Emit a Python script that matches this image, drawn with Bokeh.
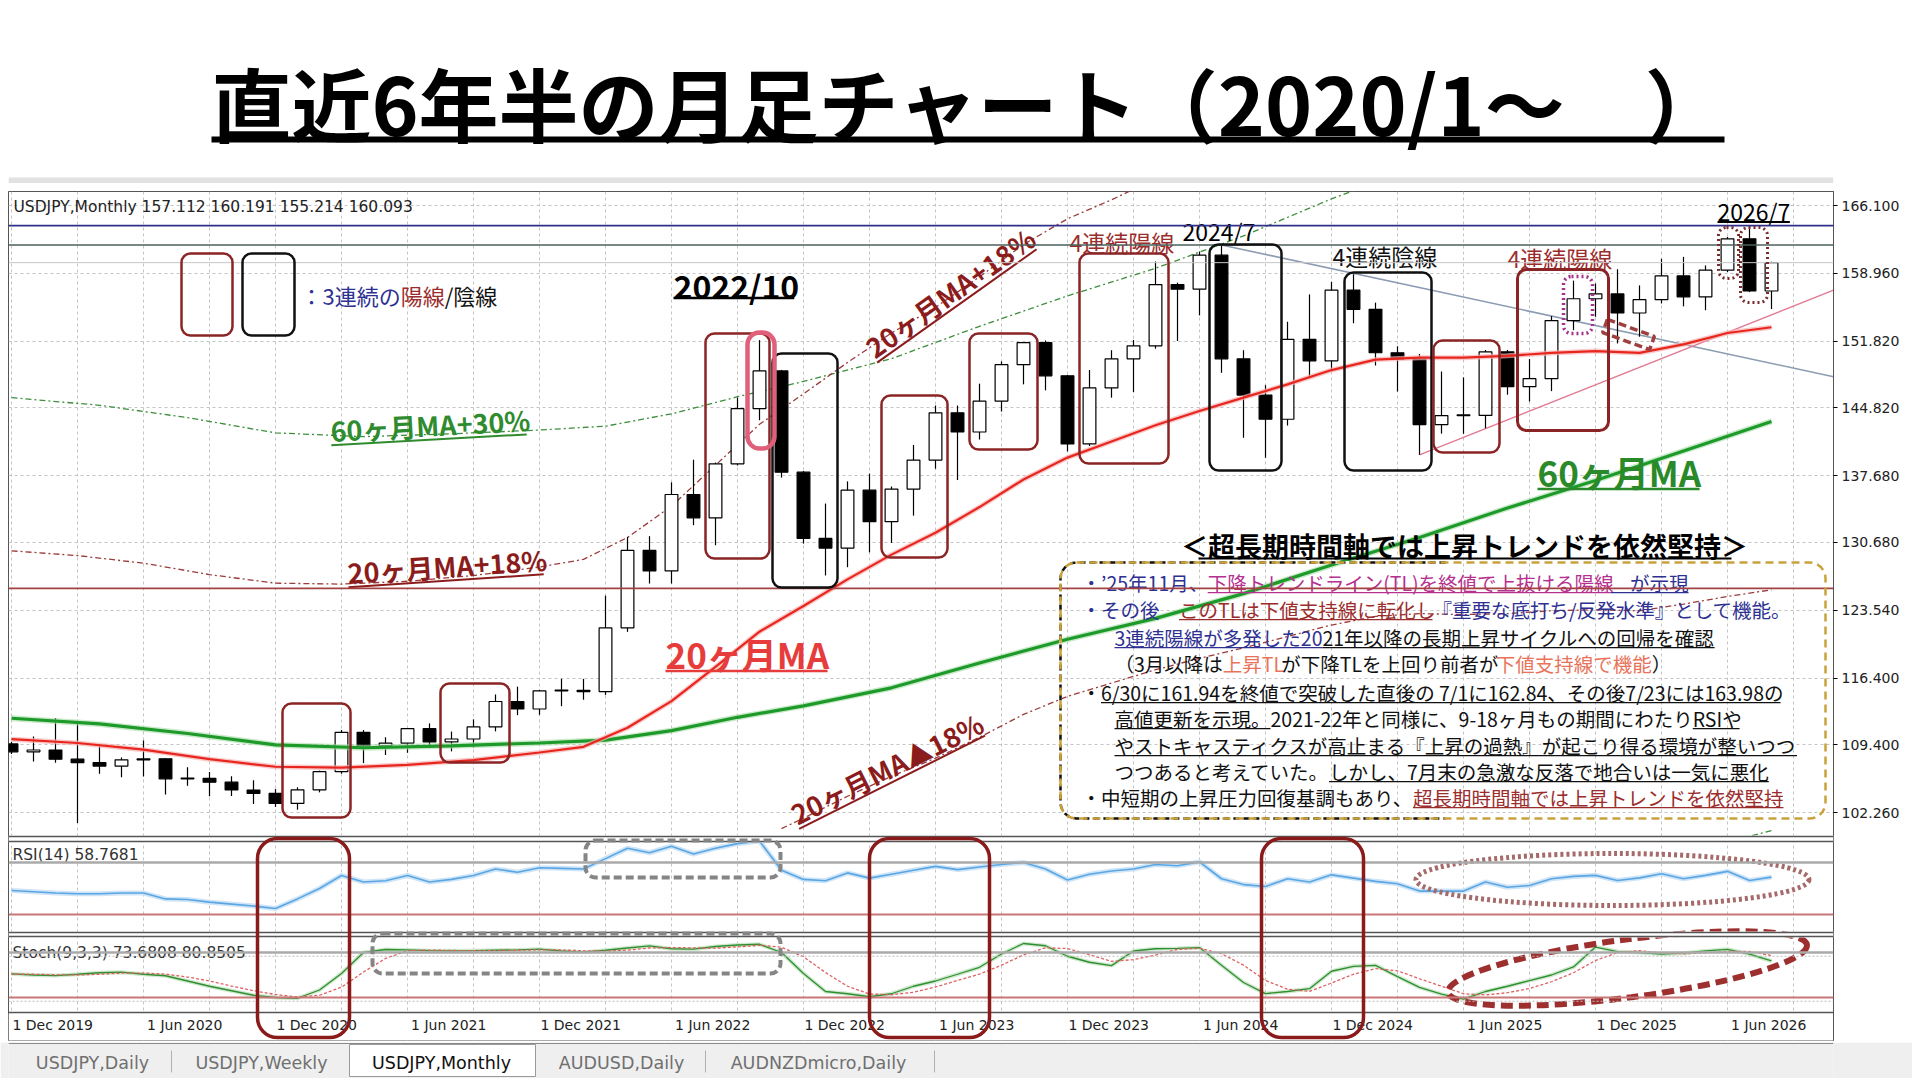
import math
import pandas as pd
from bokeh.plotting import figure
from bokeh.models import (Range1d, FixedTicker, Label, BoxAnnotation, Span,
                          ColumnDataSource, PrintfTickFormatter)
from bokeh.layouts import column
from bokeh.embed import file_html
from bokeh.resources import INLINE
from bokeh.core.properties import value

# ---------------------------------------------------------------- data
months = [d.strftime("%Y-%m") for d in pd.period_range("2019-12", "2026-08", freq="M")]

opens = [109.50, 108.67, 108.86, 107.90, 107.54, 107.17, 107.83, 107.93, 105.83, 105.89,
         105.48, 104.66, 104.30, 103.25, 104.68, 106.58, 110.72, 109.31, 109.58, 111.10,
         109.71, 110.02, 111.29, 113.96, 113.17, 115.08, 115.12, 115.00, 121.70, 129.84,
         127.69, 135.72, 133.27, 138.95, 144.74, 148.71, 138.07, 131.10, 130.09, 136.17,
         132.86, 136.29, 139.34, 144.31, 142.29, 145.54, 149.37, 151.68, 148.20, 141.04,
         146.92, 149.98, 151.35, 157.79, 157.30, 160.88, 149.98, 146.17, 143.63, 152.03,
         149.77, 157.20, 155.19, 150.62, 149.96, 143.07, 144.02, 144.03, 150.72, 147.05,
         147.90, 154.00, 156.30, 156.80, 154.80, 156.20, 158.70, 156.50, 159.30, 162.60,
         157.112]
highs = [109.72, 110.29, 112.23, 111.71, 109.38, 108.08, 109.85, 107.99, 107.05, 106.55,
         106.11, 105.68, 104.75, 104.94, 106.69, 110.97, 110.96, 110.20, 111.11, 111.66,
         110.80, 112.08, 114.70, 115.52, 115.19, 116.35, 116.34, 125.09, 131.25, 131.34,
         137.00, 139.38, 139.08, 145.90, 151.95, 148.82, 138.18, 134.77, 137.10, 137.91,
         136.56, 140.93, 145.07, 145.07, 147.37, 149.71, 151.72, 151.91, 148.29, 148.81,
         150.89, 151.97, 160.21, 157.99, 161.27, 161.95, 150.89, 147.21, 153.88, 156.75,
         158.08, 158.87, 155.89, 151.30, 150.49, 148.65, 148.03, 150.91, 150.92, 149.96,
         154.47, 158.20, 157.90, 159.40, 157.70, 160.50, 160.70, 159.80, 162.80, 163.98,
         160.191]
lows = [108.43, 107.65, 107.52, 101.19, 106.36, 105.99, 106.07, 104.19, 105.10, 104.00,
        104.03, 103.18, 102.88, 102.59, 104.41, 106.37, 107.48, 108.34, 108.57, 109.06,
        108.72, 109.11, 110.82, 112.53, 112.56, 113.47, 114.15, 114.65, 121.28, 126.36,
        126.36, 132.50, 130.39, 138.77, 143.53, 137.50, 130.56, 127.21, 128.08, 129.64,
        130.63, 133.50, 138.43, 137.24, 141.50, 144.44, 147.30, 146.67, 140.25, 140.81,
        145.90, 146.48, 151.05, 151.86, 154.55, 148.51, 141.68, 139.58, 142.97, 148.01,
        148.65, 153.72, 149.28, 146.54, 139.89, 142.12, 142.11, 142.68, 146.21, 145.49,
        146.59, 153.00, 154.40, 151.60, 152.30, 155.80, 155.50, 155.10, 159.10, 157.00,
        155.214]
closes = [108.67, 108.86, 107.90, 107.54, 107.17, 107.83, 107.93, 105.83, 105.89, 105.48,
          104.66, 104.30, 103.25, 104.68, 106.58, 110.72, 109.31, 109.58, 111.10, 109.71,
          110.02, 111.29, 113.96, 113.17, 115.08, 115.12, 115.00, 121.70, 129.84, 127.69,
          135.72, 133.27, 138.95, 144.74, 148.71, 138.07, 131.10, 130.09, 136.17, 132.86,
          136.29, 139.34, 144.31, 142.29, 145.54, 149.37, 151.68, 148.20, 141.04, 146.92,
          149.98, 151.35, 157.79, 157.30, 160.88, 149.98, 146.17, 143.63, 152.03, 149.77,
          157.20, 155.19, 150.62, 149.96, 143.07, 144.02, 144.03, 150.72, 147.05, 147.90,
          154.00, 156.30, 156.80, 154.80, 156.20, 158.70, 156.50, 159.30, 162.60, 157.112,
          160.093]

rsi14 = [48.5, 47.5, 46.5, 46.0, 46.0, 46.5, 46.5, 42.0, 41.5, 39.5,
         38.0, 36.5, 34.6, 42.0, 50.0, 60.0, 55.0, 56.0, 60.0, 55.0,
         57.0, 60.0, 65.0, 62.5, 66.0, 65.5, 65.0, 73.0, 81.0, 77.5,
         82.5, 76.5, 81.0, 84.5, 86.5, 64.0, 57.0, 56.0, 62.0, 58.0,
         61.0, 64.0, 67.0, 64.5, 66.5, 68.5, 70.0, 65.0, 56.5, 61.0,
         63.5, 65.0, 68.5, 67.5, 70.5, 57.5, 53.0, 51.5, 57.5, 55.0,
         60.5, 58.0, 55.5, 53.6, 48.0, 48.0, 48.0, 55.0, 51.0, 52.3,
         57.5, 59.3, 60.1, 56.2, 58.2, 61.3, 57.5, 60.1, 63.2, 56.2,
         58.7681]
stoch_k = [56.5, 55.0, 54.3, 56.0, 58.0, 58.7, 56.0, 54.0, 47.0, 40.0,
           34.0, 28.0, 25.0, 24.0, 35.0, 57.0, 85.0, 89.0, 88.5, 87.5,
           87.2, 87.5, 88.0, 88.5, 89.4, 87.0, 85.5, 88.0, 91.0, 93.8,
           90.0, 89.4, 93.0, 95.0, 96.0, 85.0, 57.0, 33.0, 30.0, 26.0,
           30.0, 40.0, 47.0, 56.0, 65.3, 83.0, 97.0, 94.0, 80.0, 72.0,
           67.5, 87.0, 90.0, 90.5, 91.6, 68.0, 45.0, 30.2, 33.0, 36.8,
           60.0, 66.6, 67.9, 52.9, 38.5, 29.5, 22.9, 33.0, 40.0, 47.5,
           55.0, 65.7, 92.3, 86.3, 85.0, 82.9, 84.1, 87.1, 89.3, 82.9,
           73.6808]
stoch_d = [56.0, 56.0, 55.3, 55.0, 56.0, 57.5, 57.6, 56.2, 52.3, 47.0,
           40.3, 34.0, 29.0, 25.7, 28.0, 38.7, 59.0, 77.0, 87.5, 88.3,
           87.7, 87.4, 87.6, 88.0, 88.6, 88.3, 87.3, 86.8, 88.2, 91.0,
           91.6, 91.1, 90.8, 92.5, 94.7, 92.0, 79.3, 58.3, 40.0, 29.7,
           28.7, 32.0, 39.0, 47.7, 56.1, 68.1, 81.8, 91.3, 90.3, 82.0,
           73.2, 75.5, 81.5, 89.2, 90.7, 83.4, 68.2, 47.7, 36.1, 33.3,
           44.3, 56.0, 63.6, 60.6, 50.0, 40.0, 30.0, 28.5, 31.4, 37.0,
           46.0, 58.0, 74.3, 85.0, 87.5, 84.5, 83.3, 84.5, 86.3, 86.4,
           80.8505]

# moving averages / envelopes (month index, price)
ma20_idx = [0, 3, 6, 9, 12, 15, 18, 21, 24, 26, 28, 30, 32, 34, 36, 38, 40, 42, 44, 46,
            48, 50, 52, 54, 56, 58, 60, 62, 64, 66, 68, 70, 72, 74, 76, 78, 80]
ma20_val = [110.0, 109.6, 108.9, 107.9, 107.1, 107.0, 107.3, 107.8, 108.6, 109.2, 111.2,
            114.0, 117.6, 121.3, 124.0, 126.8, 129.4, 131.7, 134.4, 137.3, 139.6, 141.3,
            143.0, 144.5, 145.9, 147.3, 148.8, 149.9, 150.1, 150.1, 150.3, 150.6, 150.8,
            150.6, 151.5, 152.7, 153.3]
ma60_idx = [0, 4, 8, 12, 16, 20, 24, 27, 30, 33, 36, 40, 44, 48, 52, 56, 60, 64, 68, 72, 76, 80]
ma60_val = [112.2, 111.6, 110.6, 109.4, 109.1, 109.3, 109.6, 109.9, 110.9, 112.3, 113.5,
            115.4, 118.0, 120.5, 122.7, 125.3, 128.3, 131.2, 134.3, 137.2, 140.3, 143.4]
env60p_idx = [0, 4, 8, 12, 16, 20, 24, 27, 30, 33, 36, 40, 44, 48, 52, 56, 60, 62]
env60p_val = [145.9, 145.1, 143.8, 142.2, 141.8, 142.1, 142.5, 142.9, 144.2, 146.0, 147.6,
              150.0, 153.4, 156.6, 159.5, 162.9, 166.8, 168.5]
env20p_idx = [0, 3, 6, 9, 12, 15, 18, 21, 24, 26, 28, 30, 32, 34, 36, 38, 40, 42, 44, 46, 48, 50, 51]
env20p_val = [129.8, 129.3, 128.5, 127.3, 126.4, 126.3, 126.6, 127.2, 128.1, 128.9, 131.2,
              134.5, 138.8, 143.1, 146.3, 149.6, 152.7, 155.4, 158.6, 162.0, 164.7, 166.7, 167.8]
env20m_idx = [35, 36, 38, 40, 42, 44, 46, 48, 50, 52, 54, 56, 58, 60, 62, 64, 66, 68, 70,
              72, 74, 76, 78, 80]
env20m_val = [100.6, 101.7, 104.0, 106.1, 108.0, 110.2, 112.6, 114.5, 115.9, 117.3, 118.5,
              119.6, 120.8, 122.0, 122.9, 123.2, 123.1, 123.2, 123.5, 123.6, 123.5, 124.2,
              125.0, 125.7]
env60m_idx = [78.5, 80]
env60m_val = [99.5, 100.4]

# trend lines (month index, price)
tl_down_idx = [55, 82.82]
tl_down_val = [161.95, 148.1]
tl_up_idx = [64, 82.82]
tl_up_val = [139.89, 157.2]

price_ticks = [102.26, 109.40, 116.40, 123.54, 130.68, 137.68, 144.82, 151.82, 158.96, 166.10]
level_high = 163.98
level_prev = 161.94
level_bid = 160.093
level_low = 125.85

JP = "Noto Sans CJK JP"
UI = "DejaVu Sans"

BL, BR = 8, 79          # left / right borders (frame spans page x 8..1833)
FRAME_W = 1825
FRAME_TOP, FRAME_BOT = 191, 1040


# page-pixel -> data helpers (annotation placement only)
def X(px):
    return (px - 11.0) / 22.0


def Y(py):
    return 166.1 - (py - 205.0) / 9.513


def YR(py):
    return 30.0 + (914.0 - py) / 1.3


def YS(py):
    return 25.0 + (997.0 - py) / 0.75


NARROW = {'.': .25, ',': .25, '/': .37, '(': .33, ')': .33, '-': .33, ' ': .224,
          '’': .25, "'": .22, '%': .9, '+': .555, 'T': .52, 'L': .48, 'R': .58,
          'S': .55, 'I': .27, 'M': .83, 'A': .6}
for _d in "0123456789":
    NARROW[_d] = .555


def tw(s, fs, bold=False):
    w = 0.0
    for ch in s:
        if ord(ch) >= 0x2E80 or ch in "・▲":
            w += 1.0
        else:
            w += NARROW.get(ch, 0.56)
    return w * fs * (1.02 if bold else 1.0)


# ---------------------------------------------------------------- title figure
tfig = figure(frame_width=FRAME_W, frame_height=183, x_range=Range1d(8, 1833),
              y_range=Range1d(183, 0), toolbar_location=None, output_backend="svg",
              min_border_left=BL, min_border_right=BR, min_border_top=0, min_border_bottom=0,
              x_axis_location=None, y_axis_location=None, outline_line_color=None)
tfig.grid.visible = False
tfig.text(x=[968], y=[100], text=["直近6年半の月足チャート（2020/1～　）"],
          text_font=value(JP), text_font_size="80px", text_font_style="bold",
          text_color="black", text_align="center", text_baseline="middle")
tfig.segment(x0=[211], y0=[139], x1=[1724], y1=[139], line_color="black", line_width=6)
tfig.quad(left=[8], right=[1833], top=[177], bottom=[183], fill_color="#e2e2e2", line_color=None)

# ---------------------------------------------------------------- chart figure
p = figure(frame_width=FRAME_W, frame_height=FRAME_BOT - FRAME_TOP,
           x_range=Range1d(X(8), X(1833)),
           y_range=Range1d(Y(FRAME_BOT), Y(FRAME_TOP)), y_axis_location="right",
           toolbar_location=None, output_backend="svg",
           min_border_left=BL, min_border_right=BR, min_border_top=8, min_border_bottom=2)
p.extra_y_ranges = {"rsi": Range1d(YR(FRAME_BOT), YR(FRAME_TOP)),
                    "sto": Range1d(YS(FRAME_BOT), YS(FRAME_TOP))}
p.outline_line_color = "#555555"
p.background_fill_color = "white"

p.yaxis.ticker = FixedTicker(ticks=price_ticks)
p.yaxis.formatter = PrintfTickFormatter(format="%.3f")
p.yaxis.major_label_text_font = UI
p.yaxis.major_label_text_font_size = "14px"
p.yaxis.major_label_text_color = "#222222"
p.yaxis.axis_line_color = "#555555"
p.yaxis.major_tick_out = 4
p.yaxis.major_tick_in = 0
p.yaxis.minor_tick_line_color = None
p.yaxis.major_label_standoff = 4

label_idx = list(range(0, 81, 6))
xt = [i + 1.875 for i in label_idx]
p.xaxis.ticker = FixedTicker(ticks=xt)
p.xaxis.major_label_overrides = {i + 1.875: pd.Period(months[i]).strftime("1 %b %Y") for i in label_idx}
p.xaxis.major_label_text_font = UI
p.xaxis.major_label_text_font_size = "14px"
p.xaxis.major_label_text_color = "#222222"
p.xaxis.major_tick_line_color = None
p.xaxis.minor_tick_line_color = None
p.xaxis.major_tick_out = 0
p.xaxis.major_tick_in = 0
p.xaxis.major_label_standoff = -24
p.xaxis.axis_line_color = None

p.xgrid.ticker = FixedTicker(ticks=list(range(0, 83, 3)))
p.xgrid.grid_line_color = "#c4c4c4"
p.xgrid.grid_line_dash = "3 3"
p.ygrid.grid_line_color = "#c4c4c4"
p.ygrid.grid_line_dash = "3 3"

# blank time-scale strip below the stochastic panel (under the axis labels)
p.add_layout(BoxAnnotation(top=Y(1013), bottom=Y(FRAME_BOT) - 1, fill_color="white",
                           fill_alpha=1.0, line_color=None, level="underlay"))

idx = list(range(len(months)))

# envelopes
p.line(env60p_idx, env60p_val, line_color="#3d8f3d", line_width=1.3, line_dash="6 3 2 3")
p.line(env20p_idx, env20p_val, line_color="#9c3b3b", line_width=1.3, line_dash="6 3 2 3")
p.line(env20m_idx, env20m_val, line_color="#9c3b3b", line_width=1.3, line_dash="6 3 2 3")
p.line(env60m_idx, env60m_val, line_color="#3d8f3d", line_width=1.3, line_dash="6 3 2 3")

# trend lines
p.line(tl_down_idx, tl_down_val, line_color="#8c9cb2", line_width=1.6)
p.line(tl_up_idx, tl_up_val, line_color="#e27a92", line_width=1.4)

# horizontal levels
for lvl, col, lw in [(level_high, "#30308c", 1.6), (level_prev, "#4a605c", 1.4),
                     (level_bid, "#c6c6c6", 1.0), (level_low, "#a34242", 1.6)]:
    p.add_layout(Span(location=lvl, dimension="width", line_color=col, line_width=lw))

# candles
tops = [max(o, c) for o, c in zip(opens, closes)]
bots = [min(o, c) for o, c in zip(opens, closes)]
tops_draw = [t if t - b > 0.08 else b + 0.08 for t, b in zip(tops, bots)]
src = ColumnDataSource(dict(x=idx, h=highs, l=lows, top=tops_draw, bot=bots,
                            fill=["white" if c >= o else "black" for o, c in zip(opens, closes)]))
p.segment(x0="x", y0="l", x1="x", y1="h", source=src, line_color="black", line_width=1.2)
p.vbar(x="x", width=0.58, top="top", bottom="bot", fill_color="fill", line_color="black",
       line_width=1.2, source=src)

# moving averages
p.line(ma60_idx, ma60_val, line_color="#a6dca6", line_width=6, line_alpha=0.6)
p.line(ma60_idx, ma60_val, line_color="#1d9a2a", line_width=3.2)
p.line(ma20_idx, ma20_val, line_color="#f6b2b2", line_width=5, line_alpha=0.7)
p.line(ma20_idx, ma20_val, line_color="#e8261e", line_width=2.2)

# RSI panel
for lvl, col, lw in [(70, "#aaaaaa", 2.5), (30, "#c87878", 2.0)]:
    p.add_layout(Span(location=lvl, dimension="width", line_color=col, line_width=lw,
                      y_range_name="rsi"))
p.line(idx, rsi14, y_range_name="rsi", line_color="#cfe5f7", line_width=5)
p.line(idx, rsi14, y_range_name="rsi", line_color="#5aa6e4", line_width=1.6)

# Stochastic panel
for lvl, col, lw, dash in [(85, "#aaaaaa", 2.5, "solid"), (25, "#c87878", 2.0, "solid"),
                           (80, "#bdbdbd", 1.0, "2 2"), (20, "#bdbdbd", 1.0, "2 2")]:
    p.add_layout(Span(location=lvl, dimension="width", line_color=col, line_width=lw,
                      line_dash=dash, y_range_name="sto"))
p.line(idx, stoch_k, y_range_name="sto", line_color="#cfe8cf", line_width=4)
p.line(idx, stoch_k, y_range_name="sto", line_color="#2f8f2f", line_width=1.3)
p.line(idx, stoch_d, y_range_name="sto", line_color="#e06060", line_width=1.3, line_dash="3 2")

# panel separators
for a, b in [(835, 842), (931, 937)]:
    p.add_layout(BoxAnnotation(top=Y(a), bottom=Y(b), fill_color="white", fill_alpha=1.0,
                               line_color=None))
    p.add_layout(Span(location=Y(a + 1), dimension="width", line_color="#555555", line_width=1.5))
    p.add_layout(Span(location=Y(b - 1), dimension="width", line_color="#555555", line_width=1.5))
p.add_layout(Span(location=Y(1012), dimension="width", line_color="#555555", line_width=1.5))


# ---------------------------------------------------------------- text helpers
def txt(px, py, s, fs, color, bold=False, ang=0.0, font=JP, ul=False, ulw=1.5,
        uloff=0.55, align="left"):
    a = math.radians(ang)
    p.text(x=[X(px)], y=[Y(py)], text=[s], angle=a, text_font=value(font),
           text_font_size=f"{fs}px", text_color=color,
           text_font_style="bold" if bold else "normal",
           text_align=align, text_baseline="middle")
    w = tw(s, fs, bold)
    if ul:
        sx, sy = px, py
        if align == "center":
            sx, sy = px - w / 2 * math.cos(a), py + w / 2 * math.sin(a)
        off = uloff * fs
        ax_, ay_ = sx + off * math.sin(a), sy + off * math.cos(a)
        bx_, by_ = ax_ + w * math.cos(a), ay_ - w * math.sin(a)
        p.segment(x0=[X(ax_)], y0=[Y(ay_)], x1=[X(bx_)], y1=[Y(by_)],
                  line_color=color, line_width=ulw)
    return w


def segs(px, py, parts, fs):
    x = px
    for s, col, u in parts:
        x += txt(x, py, s, fs, col, ul=u, ulw=1.3, uloff=0.52)


def rbox(x0, y0, x1, y1, color, lw=2.5, dash="solid", r=10):
    p.add_layout(BoxAnnotation(left=X(x0), right=X(x1), top=Y(y0), bottom=Y(y1),
                               fill_alpha=0, fill_color=None, line_color=color,
                               line_alpha=1.0, line_width=lw, line_dash=dash,
                               border_radius=r))


NAVY = "#2e3192"
DRED = "#9b2d2d"
MAG = "#b5308f"
SALM = "#e8735a"
BOXR = "#8b2525"

# header texts
txt(13, 206, f"USDJPY,Monthly  {opens[-1]:.3f} {highs[-1]:.3f} {lows[-1]:.3f} {closes[-1]:.3f}",
    15.5, "#222222", font=UI)
txt(12, 854, f"RSI(14) {rsi14[-1]:.4f}", 15.5, "#333333", font=UI)
txt(12, 952, f"Stoch(9,3,3) {stoch_k[-1]:.4f} {stoch_d[-1]:.4f}", 15.5, "#333333", font=UI)

# legend
rbox(181, 253, 232, 335, BOXR, lw=2.5, r=9)
rbox(242, 253, 294, 335, "#111111", lw=2.5, r=9)
x = 300
x += txt(x, 294, "：3連続の", 22, NAVY)
x += txt(x, 294, "陽線", 22, DRED)
txt(x, 294, "/陰線", 22, "#111111")

# candle group boxes
rbox(282, 703, 350, 817, BOXR, lw=2.5, r=9)
rbox(440, 683, 509, 762, BOXR, lw=2.5, r=9)
rbox(705, 333, 769, 558, BOXR, lw=2.5, r=9)
rbox(772, 353, 837, 587, "#111111", lw=2.5, r=9)
rbox(881, 395, 947, 557, BOXR, lw=2.5, r=9)
rbox(969, 333, 1037, 449, BOXR, lw=2.5, r=9)
rbox(1079, 253, 1168, 463, BOXR, lw=2.5, r=9)
rbox(1209, 244, 1281, 470, "#111111", lw=2.5, r=9)
rbox(1344, 272, 1431, 470, "#111111", lw=2.5, r=9)
rbox(1433, 340, 1499, 452, BOXR, lw=2.5, r=9)
rbox(1517, 269, 1608, 430, BOXR, lw=3, r=9)
rbox(747, 332, 774, 448, "#e0607c", lw=4.5, r=12)
rbox(1563, 276, 1592, 333, "#a3338c", lw=3.5, dash="2 3", r=8)
rbox(1718, 227, 1738, 278, "#7a2c2c", lw=3, dash="2 3", r=8)
rbox(1740, 227, 1767, 302, "#7a2c2c", lw=3, dash="2 3", r=8)
p.rect(x=[X(1628)], y=[Y(334)], width=[50], height=[14], angle=math.radians(-20),
       width_units="screen", height_units="screen", fill_alpha=0, line_color="#9e4040",
       line_width=3.5, line_dash="8 4")

# lower panel highlights
for x0, x1 in [(257, 349), (869, 989), (1261, 1363)]:
    rbox(x0, 838, x1, 1037, "#8b1a1a", lw=3.5, r=20)
rbox(585, 840, 780, 877, "#858585", lw=4, dash="8 4", r=10)
rbox(372, 933, 780, 973, "#858585", lw=4, dash="8 4", r=10)
p.ellipse(x=[X(1612)], y=[Y(879)], width=[393], height=[52], width_units="screen",
          height_units="screen", fill_alpha=0, line_color="#a56a6a", line_width=5,
          line_dash="3 3")
p.ellipse(x=[X(1627)], y=[Y(968)], width=[362], height=[58], angle=math.radians(7.5),
          width_units="screen", height_units="screen", fill_alpha=0,
          line_color="#9e2f2f", line_width=6, line_dash="12 6")

# chart labels
txt(673, 284, "2022/10", 32, "black", bold=True, ul=True, ulw=2.5, uloff=0.42)
txt(1182, 230, "2024/7", 23, "black")
txt(1069, 241, "4連続陽線", 23, DRED)
txt(1332, 255, "4連続陰線", 23, "#111111")
txt(1507, 257, "4連続陽線", 23, DRED)
txt(1717, 210, "2026/7", 23, "black", ul=True, ulw=2, uloff=0.5)
txt(330, 430, "60ヶ月MA+30%", 27, "#2e8b2e", bold=True, ang=3.2, ul=True, ulw=2)
txt(347, 572, "20ヶ月MA+18%", 27, "#8b1c1c", bold=True, ang=3.8, ul=True, ulw=2)
txt(868, 350, "20ヶ月MA+18%", 27, "#8b1c1c", bold=True, ang=35.4, ul=True, ulw=2)
txt(792, 815, "20ヶ月MA▲18%", 27, "#8b1c1c", bold=True, ang=26.6, ul=True, ulw=2)
txt(665, 653, "20ヶ月MA", 35, "#e63c3c", bold=True, ul=True, ulw=2.5, uloff=0.5)
txt(1537, 471, "60ヶ月MA", 35, "#2a8a2a", bold=True, ul=True, ulw=2.5, uloff=0.5)

# comment box
p.add_layout(BoxAnnotation(left=X(1060), right=X(1825), top=Y(562), bottom=Y(818),
                           fill_alpha=0, fill_color=None, line_color="#c9a23a",
                           line_alpha=1.0, line_width=2.5, line_dash="8 5", border_radius=16))
r = 16
pts = [(1445, 562), (1060 + r, 562)]
for k in range(1, 7):
    t = math.radians(15 * k)
    pts.append((1060 + r - r * math.sin(t), 562 + r - r * math.cos(t)))
pts.append((1060, 818 - r))
for k in range(1, 7):
    t = math.radians(15 * k)
    pts.append((1060 + r - r * math.cos(t), 818 - r + r * math.sin(t)))
pts.append((1445, 818))
px_ = [X(a) for a, b in pts]
py_ = [Y(b) for a, b in pts]
p.line(px_, py_, line_color="white", line_width=3)
p.line(px_, py_, line_color="#111111", line_width=2.5, line_dash="6 4")

txt(1464, 545, "＜超長期時間軸では上昇トレンドを依然堅持＞", 27, "black", bold=True,
    align="center")
p.segment(x0=[X(1198)], y0=[Y(558)], x1=[X(1731)], y1=[Y(558)], line_color="black",
          line_width=2)

FS = 19.5
segs(1081, 582, [("・’25年11月、", NAVY, False),
                 ("下降トレンドライン(TL)を終値で上抜ける陽線", MAG, True),
                 ("　が示現", NAVY, True)], FS)
segs(1081, 609, [("・その後　", NAVY, False), ("このTLは下値支持線に転化し", DRED, True),
                 ("『重要な底打ち/反発水準』として機能。", NAVY, False)], FS)
segs(1114, 637, [("3連続陽線が多発した20", NAVY, True),
                 ("21年以降の長期上昇サイクルへの回帰を確認", "#111111", True)], FS)
segs(1114, 663, [("（3月以降は", "#111111", False), ("上昇TL", SALM, False),
                 ("が下降TLを上回り前者が", "#111111", False), ("下値支持線で機能", SALM, False),
                 ("）", "#111111", False)], FS)
segs(1081, 692, [("・", "#111111", False),
                 ("6/30に161.94を終値で突破した直後の 7/1に162.84、その後7/23には163.98の",
                  "#111111", True)], FS)
segs(1114, 718, [("高値更新を示現。", "#111111", True),
                 ("2021-22年と同様に、9-18ヶ月もの期間にわたり", "#111111", False),
                 ("RSIや", "#111111", True)], FS)
segs(1114, 745, [("やストキャスティクスが高止まる『上昇の過熱』が起こり得る環境が整いつつ",
                  "#111111", True)], FS)
segs(1114, 771, [("つつあると考えていた。", "#111111", False),
                 ("しかし、7月末の急激な反落で地合いは一気に悪化", "#111111", True)], FS)
segs(1081, 797, [("・中短期の上昇圧力回復基調もあり、", "#111111", False),
                 ("超長期時間軸では上昇トレンドを依然堅持", DRED, True)], FS)


# right side boxed price labels
def side_label(py, text, bg):
    p.add_layout(Label(x=X(1836), y=Y(py), text=text, text_font=UI, text_font_size="14px",
                       text_color="white", text_baseline="middle", text_align="left",
                       background_fill_color=bg, background_fill_alpha=1.0))


side_label(225, f" {level_high:.3f} ", "#1f1f8c")
side_label(244, f" {level_prev:.3f} ", "#2f4f4a")
side_label(262, f" {level_bid:.3f} ", "#000000")
side_label(587, f" {level_low:.3f} ", "#8b0000")
side_label(862, " 70.0000 ", "#6e6e6e")
side_label(915, " 30.0000 ", "#c03030")
side_label(952, " 85.0000 ", "#6e6e6e")
side_label(999, " 25.0000 ", "#c03030")

# ---------------------------------------------------------------- tab bar
tb = figure(frame_width=FRAME_W, frame_height=36, x_range=Range1d(8, 1833),
            y_range=Range1d(1078, 1042), toolbar_location=None, output_backend="svg",
            min_border_left=BL, min_border_right=BR, min_border_top=0, min_border_bottom=0,
            x_axis_location=None, y_axis_location=None, outline_line_color=None,
            background_fill_color="#efefef", border_fill_color="#efefef")
tb.grid.visible = False
tb.segment(x0=[8], y0=[1043], x1=[1833], y1=[1043], line_color="#8a8a8a", line_width=1)
tb.quad(left=[349], right=[535], top=[1044], bottom=[1076], fill_color="white", line_color="#9a9a9a")
tb.segment(x0=[171, 705, 934], y0=[1050, 1050, 1050], x1=[171, 705, 934], y1=[1072, 1072, 1072],
           line_color="#b0b0b0", line_width=1)
tabs = ["USDJPY,Daily", "USDJPY,Weekly", "USDJPY,Monthly", "AUDUSD,Daily", "AUDNZDmicro,Daily"]
tab_x = [92, 261, 441, 621, 818]
tb.text(x=tab_x, y=[1062] * 5, text=tabs, text_font=value(UI), text_font_size="17.5px",
        text_color=["#707070", "#707070", "#111111", "#707070", "#707070"],
        text_align="center", text_baseline="middle")
for ax_x, ch in [(1867, "‹"), (1900, "›")]:
    tb.add_layout(Label(x=ax_x, y=1060, text=ch, text_font=UI, text_font_size="18px",
                        text_color="#9a9a9a", text_align="center", text_baseline="middle"))

layout = column(tfig, p, tb, spacing=0)
open("out.html", "w").write(file_html(layout, INLINE))
